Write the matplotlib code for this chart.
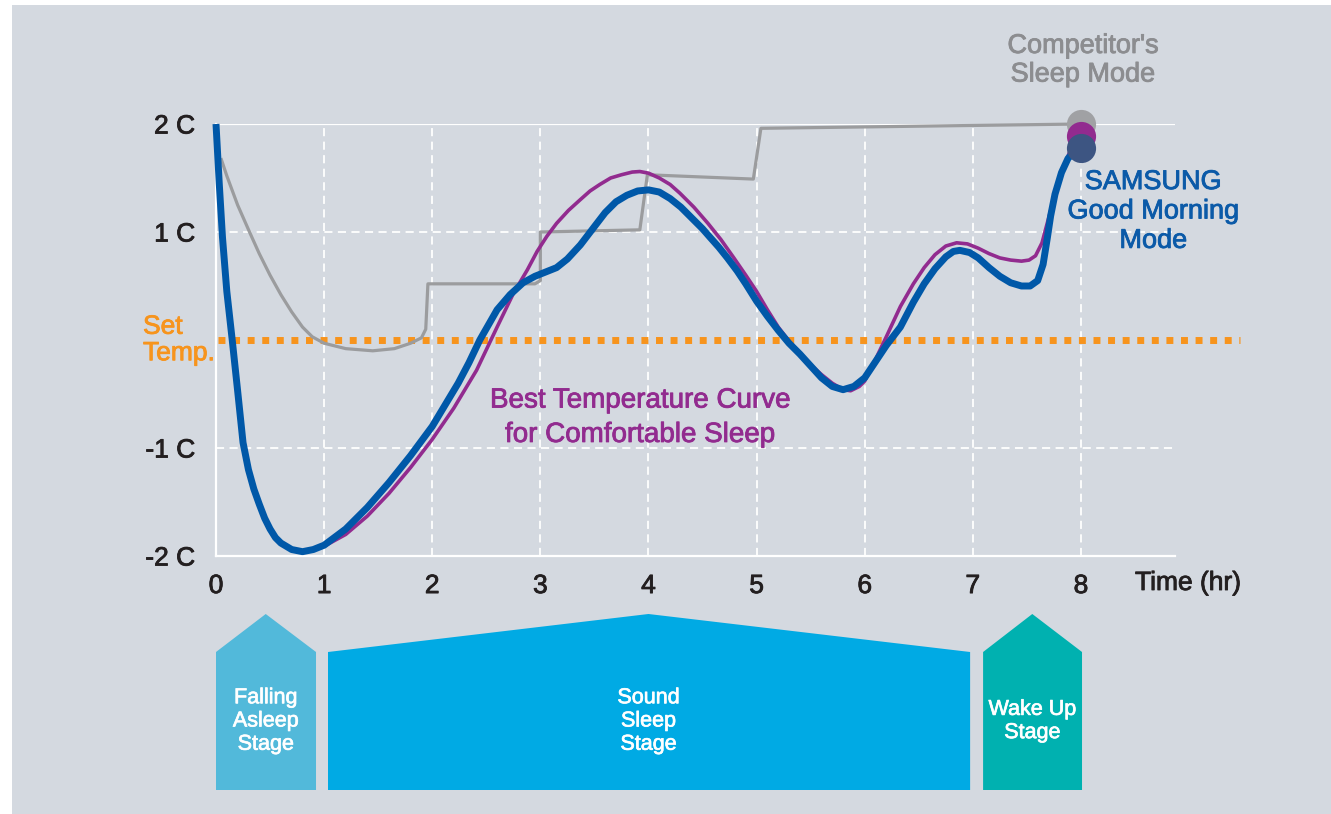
import matplotlib
matplotlib.use("Agg")
import matplotlib.pyplot as plt
from matplotlib.patches import Rectangle, Polygon
import matplotlib.patheffects as pe

plt.rcParams['font.family'] = ['Liberation Sans', 'DejaVu Sans']

# --- data (hours, degrees relative to set temp) ---
samsung_t = [0.00, 0.03, 0.06, 0.10, 0.15, 0.20, 0.25, 0.30, 0.35, 0.40, 0.45, 0.50,
             0.55, 0.60, 0.70, 0.80, 0.90, 1.00, 1.20, 1.40, 1.60, 1.80, 2.00, 2.12,
             2.24, 2.34, 2.44, 2.60, 2.72, 2.84, 2.95, 3.05, 3.15, 3.25, 3.37, 3.50,
             3.60, 3.70, 3.80, 3.90, 4.00, 4.10, 4.20, 4.30, 4.41, 4.50, 4.57, 4.65,
             4.73, 4.82, 4.90, 5.00, 5.10, 5.20, 5.30, 5.40, 5.50, 5.60, 5.70, 5.80,
             5.90, 6.00, 6.10, 6.20, 6.33, 6.45, 6.55, 6.65, 6.75, 6.82, 6.88, 6.97,
             7.05, 7.15, 7.25, 7.35, 7.45, 7.53, 7.60, 7.65, 7.69, 7.72, 7.76, 7.82,
             7.88, 7.95]
samsung_v = [2.00, 1.45, 0.95, 0.45, 0.00, -0.47, -0.95, -1.20, -1.38, -1.52, -1.65, -1.75,
             -1.83, -1.88, -1.94, -1.96, -1.94, -1.90, -1.75, -1.55, -1.32, -1.07, -0.80, -0.60,
             -0.40, -0.21, 0.00, 0.28, 0.42, 0.53, 0.59, 0.63, 0.67, 0.75, 0.88, 1.05,
             1.18, 1.28, 1.34, 1.38, 1.39, 1.37, 1.31, 1.23, 1.12, 1.03, 0.95, 0.86,
             0.76, 0.64, 0.52, 0.36, 0.22, 0.09, -0.03, -0.13, -0.24, -0.35, -0.43, -0.46,
             -0.43, -0.35, -0.20, -0.05, 0.12, 0.35, 0.52, 0.66, 0.77, 0.82, 0.83, 0.81,
             0.76, 0.67, 0.59, 0.53, 0.50, 0.50, 0.55, 0.70, 0.95, 1.15, 1.35, 1.55,
             1.68, 1.76]

best_t = [0.80, 1.00, 1.20, 1.40, 1.60, 1.80, 2.00, 2.20, 2.41, 2.60, 2.75, 2.88,
          2.97, 3.06, 3.15, 3.26, 3.37, 3.46, 3.55, 3.65, 3.75, 3.85, 3.92, 4.00,
          4.10, 4.20, 4.29, 4.42, 4.55, 4.67, 4.79, 4.90, 5.00, 5.10, 5.20, 5.30,
          5.40, 5.50, 5.60, 5.70, 5.80, 5.87, 5.95, 6.00, 6.10, 6.20, 6.33, 6.45,
          6.55, 6.65, 6.75, 6.85, 6.95, 7.05, 7.15, 7.25, 7.35, 7.45, 7.52, 7.58,
          7.64, 7.68, 7.72, 7.77, 7.83, 7.90, 7.95, 8.00]
best_v = [-1.96, -1.91, -1.80, -1.63, -1.42, -1.18, -0.92, -0.63, -0.28, 0.12, 0.43, 0.65,
          0.82, 0.96, 1.08, 1.20, 1.30, 1.38, 1.44, 1.50, 1.53, 1.555, 1.56, 1.545,
          1.50, 1.44, 1.36, 1.23, 1.08, 0.93, 0.76, 0.60, 0.45, 0.28, 0.12, -0.01,
          -0.12, -0.23, -0.32, -0.40, -0.46, -0.47, -0.43, -0.38, -0.18, 0.03, 0.31, 0.52,
          0.67, 0.79, 0.87, 0.90, 0.89, 0.85, 0.80, 0.76, 0.74, 0.73, 0.74, 0.78,
          0.90, 1.05, 1.20, 1.38, 1.58, 1.75, 1.84, 1.89]

comp_t = [0.05, 0.10, 0.20, 0.31, 0.40, 0.50, 0.60, 0.70, 0.80, 0.89, 1.00, 1.20,
          1.45, 1.65, 1.80, 1.90, 1.94, 1.96, 2.95, 3.00, 3.00, 3.92, 3.99, 4.97,
          5.04, 8.00]
comp_v = [1.67, 1.52, 1.25, 1.00, 0.80, 0.60, 0.42, 0.26, 0.12, 0.03, -0.03, -0.08,
          -0.10, -0.08, -0.03, 0.02, 0.10, 0.52, 0.52, 0.55, 1.00, 1.02, 1.53, 1.49,
          1.96, 2.00]

end_points = [2.00, 1.89, 1.78]   # competitor, best curve, samsung at 8 h

y_ticks = [-2, -1, 1, 2]
y_labels = ['-2 C', '-1 C', '1 C', '2 C']
x_ticks = list(range(9))

stage_names = ['Falling\nAsleep\nStage', 'Sound\nSleep\nStage', 'Wake Up\nStage']
stage_start = [0.0, 1.036, 7.095]
stage_end = [0.925, 6.975, 8.01]
stage_peak = [0.46, 4.0, 7.55]
stage_colors = ['#52b9da', '#00aae4', '#00b1b0']

# colours
bg = '#d4d9e0'
c_samsung = '#0058a8'
c_best = '#922b8f'
c_comp = '#9b9c9e'
c_orange = '#f7941d'
c_text = '#231f20'


def heavy(color, w=0.6):
    # thicken Liberation glyphs a bit to look like the medium weight in the original
    return [pe.withStroke(linewidth=w, foreground=color)]


W, H = 1331, 814
fig = plt.figure(figsize=(W / 100, H / 100), dpi=100, facecolor='white')
fig.add_artist(Rectangle((12 / W, 0), 1, (H - 5) / H, transform=fig.transFigure,
                         facecolor=bg, edgecolor='none', zorder=0))

ax = fig.add_axes([216 / W, (H - 556) / H, (1175 - 216) / W, 432 / H])
ax.set_facecolor('none')
ax.set_xlim(0, 8.87)
ax.set_ylim(-2, 2)

for s in ['top', 'right']:
    ax.spines[s].set_visible(False)
for s in ['left', 'bottom']:
    ax.spines[s].set_color('white')
    ax.spines[s].set_linewidth(1.6)

ax.set_yticks(y_ticks, y_labels)
ax.set_xticks(x_ticks, [str(x) for x in x_ticks])
ax.tick_params(length=0, labelsize=19, labelcolor=c_text)
ax.tick_params(axis='y', pad=15)
ax.tick_params(axis='x', pad=13)
for lab in ax.get_xticklabels() + ax.get_yticklabels():
    lab.set_path_effects(heavy(c_text))

# grid
for x in x_ticks[1:]:
    ax.plot([x, x], [-2, 2], color='white', lw=1.3, ls=(0, (4.5, 3)), zorder=1)
for y in [-1, 1]:
    ax.plot([0, 8.87], [y, y], color='white', lw=1.3, ls=(0, (4.5, 3)), zorder=1)
ax.plot([0, 8.87], [2, 2], color='white', lw=1.6, zorder=1)

# set temp line
ax.plot([0.02, 9.47], [0, 0], color=c_orange, lw=5, ls=(0, (1, 1.1)),
        dash_capstyle='butt', clip_on=False, zorder=2)

ax.plot(comp_t, comp_v, color=c_comp, lw=2.3, clip_on=False, zorder=3,
        solid_joinstyle='round')
ax.plot(best_t, best_v, color=c_best, lw=2.6, clip_on=False, zorder=4,
        solid_capstyle='round', solid_joinstyle='round')
ax.plot(samsung_t, samsung_v, color=c_samsung, lw=5, clip_on=False, zorder=5,
        solid_capstyle='butt', solid_joinstyle='round')

for v, c in zip(end_points, ['#a0a1a4', c_best, '#3d5582']):
    ax.plot(8, v, 'o', ms=21, color=c, mec='none', clip_on=False, zorder=6)

# labels
ax.text(8.5, -2.25, 'Time (hr)', fontsize=19, color=c_text, ha='left', va='center',
        path_effects=heavy(c_text))
ax.text(-0.675, 0.0, 'Set\nTemp.', fontsize=19, color=c_orange, ha='left',
        va='center', linespacing=1.13, path_effects=heavy(c_orange))
ax.text(8.02, 2.59, "Competitor's\nSleep Mode", fontsize=19.5, color='#8c8d90',
        ha='center', va='center', linespacing=1.13, path_effects=heavy('#8c8d90'))
ax.text(8.67, 1.19, 'SAMSUNG\nGood Morning\nMode', fontsize=19.5, color='#0b5aa8',
        ha='center', va='center', linespacing=1.17, path_effects=heavy('#0b5aa8'))
ax.text(3.92, -0.72, 'Best Temperature Curve\nfor Comfortable Sleep', fontsize=20,
        color=c_best, ha='center', va='center', linespacing=1.42,
        path_effects=heavy(c_best))

# stages
sax = fig.add_axes([216 / W, (H - 790) / H, (1175 - 216) / W, 176 / H])
sax.set_xlim(0, 8.87)
sax.set_ylim(0, 176)
sax.axis('off')
for name, a, b, p, c in zip(stage_names, stage_start, stage_end, stage_peak, stage_colors):
    sax.add_patch(Polygon([(a, 0), (a, 138), (p, 176), (b, 138), (b, 0)],
                          closed=True, facecolor=c, edgecolor='none'))
    sax.text(p, 69, name, fontsize=15.5, color='white', ha='center', va='center',
             linespacing=1.14, path_effects=heavy('white', 0.5))

fig.savefig('out.png', dpi=100, facecolor=fig.get_facecolor())
